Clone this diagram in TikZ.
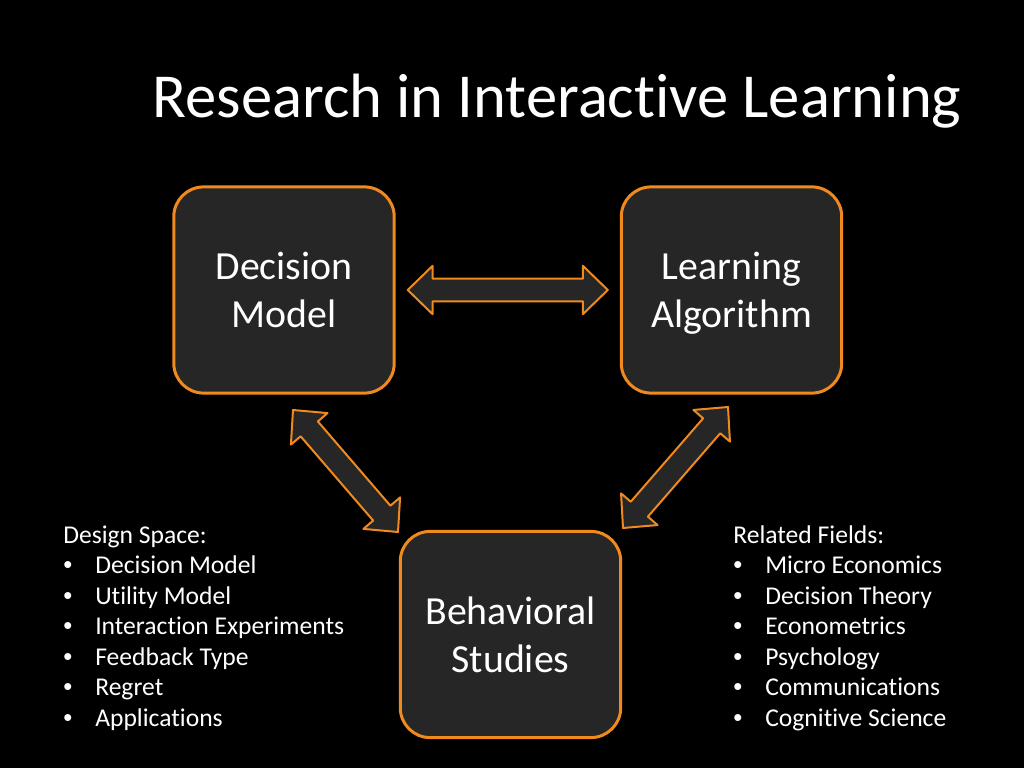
\documentclass[tikz,border=0pt]{standalone}
\usepackage{fontspec}
\setmainfont{Carlito}[Ligatures=NoCommon]
\newfontfamily\bulletfont{Liberation Sans}
\usepackage{tikz}
\usetikzlibrary{calc}

\definecolor{boxfill}{HTML}{262626}
\definecolor{boxline}{RGB}{240,138,30}

\newcommand\headlen{17.5pt}
\newcommand\headwid{17pt}
\newcommand\shaftwid{8pt}
\newcommand\bul{\makebox[22.5pt][l]{\bulletfont\textbullet}}
\newcommand\nodepth[1]{\raisebox{0pt}[\height][0pt]{#1}}
% block arrow with a head at both ends
\newcommand\dblarrow[2]{%
  \coordinate (da) at ($(#1)!\headlen!(#2)$);
  \coordinate (db) at ($(#2)!\headlen!(#1)$);
  \draw[barr] (#1) -- ($(da)!\headwid!90:(#2)$) -- ($(da)!\shaftwid!90:(#2)$)
    -- ($(db)!\shaftwid!-90:(#1)$) -- ($(db)!\headwid!-90:(#1)$) -- (#2)
    -- ($(db)!\headwid!90:(#1)$) -- ($(db)!\shaftwid!90:(#1)$)
    -- ($(da)!\shaftwid!-90:(#2)$) -- ($(da)!\headwid!-90:(#2)$) -- cycle;}

\begin{document}
\begin{tikzpicture}[x=0.703125pt, y=-0.703125pt,
  box/.style={draw=boxline, fill=boxfill, line width=2.1pt, rounded corners=21pt,
              minimum width=155pt, minimum height=145pt, align=center,
              text=white, font=\fontsize{28}{33.6}\selectfont},
  barr/.style={draw=boxline, fill=boxfill, line width=1.4pt, line join=round},
  head/.style={text=white, inner sep=0pt, font=\fontsize{18}{21.6}\selectfont},
  item/.style={head}]
\fill[black] (0,0) rectangle (1024,768);
\node[text=white, inner sep=0pt, anchor=base, font=\fontsize{44}{52.8}\selectfont] (title) at (557,118) {Research in Interactive Learning};

\node[box] (dm) at (284,290) {Decision\\\nodepth{Model}};
\node[box] (la) at (731.5,290) {Learning\\\nodepth{Algorithm}};
\node[box] (bs) at (510.5,634.5) {Behavioral\\\nodepth{Studies}};

\coordinate (h1) at ($(dm.east)+(12,0)$);
\coordinate (h2) at ($(la.west)+(-12,0)$);
\coordinate (l1) at (293,410);
\coordinate (l2) at (398,532);
\coordinate (r1) at (728,407);
\coordinate (r2) at (623,528);
\dblarrow{h1}{h2}
\dblarrow{l1}{l2}
\dblarrow{r1}{r2}

\node[head, anchor=base west] (ds) at (63,543) {Design Space:};
\foreach \t [count=\i] in {Decision Model, Utility Model, Interaction Experiments, Feedback Type, Regret, Applications}
  \node[item, anchor=base west] (ds\i) at (63,543+30.5*\i) {\bul\t};

\node[head, anchor=base west] (rf) at (733,543) {Related Fields:};
\foreach \t [count=\i] in {Micro Economics, Decision Theory, Econometrics, Psychology, Communications, Cognitive Science}
  \node[item, anchor=base west] (rf\i) at (733,543+30.5*\i) {\bul\t};
\end{tikzpicture}
\end{document}
